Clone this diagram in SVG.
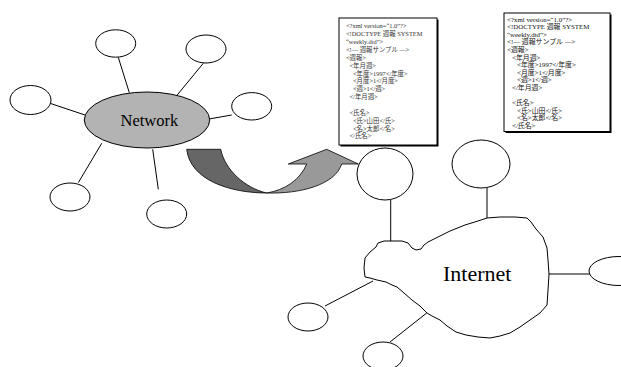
<svg xmlns="http://www.w3.org/2000/svg" width="621" height="367" viewBox="0 0 621 367">
<style>
.n{fill:#fff;stroke:#000;stroke-width:1}
.c line{stroke:#000;stroke-width:1}
.lbl{font-family:"Liberation Serif","Times New Roman",serif;fill:#000}
.doc{fill:#fff;stroke:#000;stroke-width:1}
.sh{fill:#000}
.t1{font-family:"Liberation Serif","Noto Sans CJK JP",serif;font-size:6.4px;fill:#333}
.t2{font-family:"Liberation Serif","Noto Sans CJK JP",serif;font-size:6.9px;fill:#111}
</style>
<rect width="621" height="367" fill="#fff"/>
<g class="c" id="connectors">
<line x1="118.3" y1="57.3" x2="129.3" y2="92.7"/>
<line x1="203.3" y1="63.3" x2="175" y2="97.7"/>
<line x1="231.7" y1="115" x2="203.3" y2="120"/>
<line x1="50" y1="103.3" x2="85" y2="115"/>
<line x1="78.3" y1="182.7" x2="101.7" y2="143.3"/>
<line x1="152.7" y1="149.3" x2="158.3" y2="189.3"/>
<line x1="390.7" y1="200" x2="390.7" y2="242"/>
<line x1="487" y1="188" x2="487" y2="223"/>
<line x1="549" y1="274" x2="590" y2="274"/>
<line x1="373" y1="281" x2="325" y2="306"/>
<line x1="426.7" y1="313" x2="390" y2="342"/>
</g>
<g id="network">
<ellipse cx="147" cy="120" rx="62.7" ry="28" fill="#b3b3b3" stroke="#000" stroke-width="1"/>
<text class="lbl" x="120.5" y="126" font-size="16.5">Network</text>
</g>
<g id="n-top"><ellipse class="n" cx="115.7" cy="43.5" rx="20" ry="13.7"/></g>
<g id="n-upright"><ellipse class="n" cx="206" cy="49" rx="20" ry="14"/></g>
<g id="n-right"><ellipse class="n" cx="251.7" cy="106.3" rx="20" ry="13.7"/></g>
<g id="n-left"><ellipse class="n" cx="30.5" cy="100" rx="20.5" ry="14.5"/></g>
<g id="n-lowleft"><ellipse class="n" cx="70" cy="197" rx="20" ry="14"/></g>
<g id="n-bottom"><ellipse class="n" cx="166.7" cy="214" rx="20" ry="14"/></g>
<g id="arrow">
<path d="M186.7,149.3 L220.7,149.3 C225,170 245,188 266.7,193 C230,193 190,180 186.7,149.3 Z" fill="#666" stroke="#000" stroke-width="0.8"/>
<path d="M266.7,193 C300,194 335,185 341.7,164 L358.3,164 L326.7,149.3 L288.3,164 L306.7,164 C300,180 285,190 266.7,193 Z" fill="#999" stroke="#000" stroke-width="0.8"/>
</g>
<g id="doc1">
<rect class="sh" x="340.5" y="19.5" width="98" height="127"/>
<rect class="doc" x="339" y="18" width="98" height="127"/>
<text class="t1" x="346" y="28.3">&lt;?xml version=“1.0”?&gt;</text>
<text class="t1" x="346" y="36.2">&lt;!DOCTYPE 週報 SYSTEM</text>
<text class="t1" x="346" y="44">“weekly.dtd”&gt;</text>
<text class="t1" x="346" y="51.9">&lt;!— 週報サンプル —&gt;</text>
<text class="t1" x="346" y="59.7">&lt;週報&gt;</text>
<text class="t1" x="349.5" y="67.6">&lt;年月週&gt;</text>
<text class="t1" x="353" y="75.5">&lt;年度&gt;1997&lt;/年度&gt;</text>
<text class="t1" x="353" y="83.3">&lt;月度&gt;1&lt;/月度&gt;</text>
<text class="t1" x="353" y="91.2">&lt;週&gt;1&lt;/週&gt;</text>
<text class="t1" x="349.5" y="99">&lt;/年月週&gt;</text>
<text class="t1" x="349.5" y="114.8">&lt;氏名&gt;</text>
<text class="t1" x="353" y="122.6">&lt;氏&gt;山田&lt;/氏&gt;</text>
<text class="t1" x="353" y="130.5">&lt;名&gt;太郎&lt;/名&gt;</text>
<text class="t1" x="349.5" y="138.3">&lt;/氏名&gt;</text>
</g>
<g id="doc2">
<rect class="sh" x="505.5" y="14.5" width="106" height="118.5"/>
<rect class="doc" x="504" y="13" width="106" height="118.5"/>
<text class="t2" x="507" y="21.5">&lt;?xml version=“1.0”?&gt;</text>
<text class="t2" x="507" y="29.1">&lt;!DOCTYPE 週報 SYSTEM</text>
<text class="t2" x="507" y="36.7">“weekly.dtd”&gt;</text>
<text class="t2" x="507" y="44.3">&lt;!— 週報サンプル —&gt;</text>
<text class="t2" x="507" y="51.9">&lt;週報&gt;</text>
<text class="t2" x="512" y="59.5">&lt;年月週&gt;</text>
<text class="t2" x="517" y="67.1">&lt;年度&gt;1997&lt;/年度&gt;</text>
<text class="t2" x="517" y="74.7">&lt;月度&gt;1&lt;/月度&gt;</text>
<text class="t2" x="517" y="82.3">&lt;週&gt;1&lt;/週&gt;</text>
<text class="t2" x="512" y="89.9">&lt;/年月週&gt;</text>
<text class="t2" x="512" y="105.1">&lt;氏名&gt;</text>
<text class="t2" x="517" y="112.7">&lt;氏&gt;山田&lt;/氏&gt;</text>
<text class="t2" x="517" y="120.3">&lt;名&gt;太郎&lt;/名&gt;</text>
<text class="t2" x="512" y="127.9">&lt;/氏名&gt;</text>
</g>
<g id="internet">
<path d="M364,268 L365,258 L370,252 L376,247 L378,243 L384,241 L392,241 L402,241 L408,243 L412,248 L416,250 L421,249 L424,245 L428,242 L438,237 L450,231 L465,225 L478,221 L487,218 L500,217 L515,217 L527,218 L531,222 L536,229 L543,237 L547,248 L548,260 L549,274 L548,290 L547,305 L540,313 L530,320 L520,327 L510,333 L500,336 L490,338 L478,337 L466,335 L456,332 L447,326 L440,320 L432,316 L427,313 L420,306 L412,300 L404,293 L397,287 L392,285 L386,282 L377,280 L370,278 L365,277 Z" fill="#fff" stroke="#000" stroke-width="1" stroke-linejoin="round"/>
<text class="lbl" x="443" y="281" font-size="22">Internet</text>
</g>
<g id="i-top"><ellipse class="n" cx="385" cy="174" rx="28" ry="26"/></g>
<g id="i-topright"><ellipse class="n" cx="481" cy="164" rx="29" ry="24"/></g>
<g id="i-right"><ellipse class="n" cx="619" cy="271" rx="30" ry="14.5"/></g>
<g id="i-left"><ellipse class="n" cx="308" cy="317" rx="20" ry="14"/></g>
<g id="i-bottom"><ellipse class="n" cx="383" cy="356" rx="20" ry="14"/></g>
</svg>
